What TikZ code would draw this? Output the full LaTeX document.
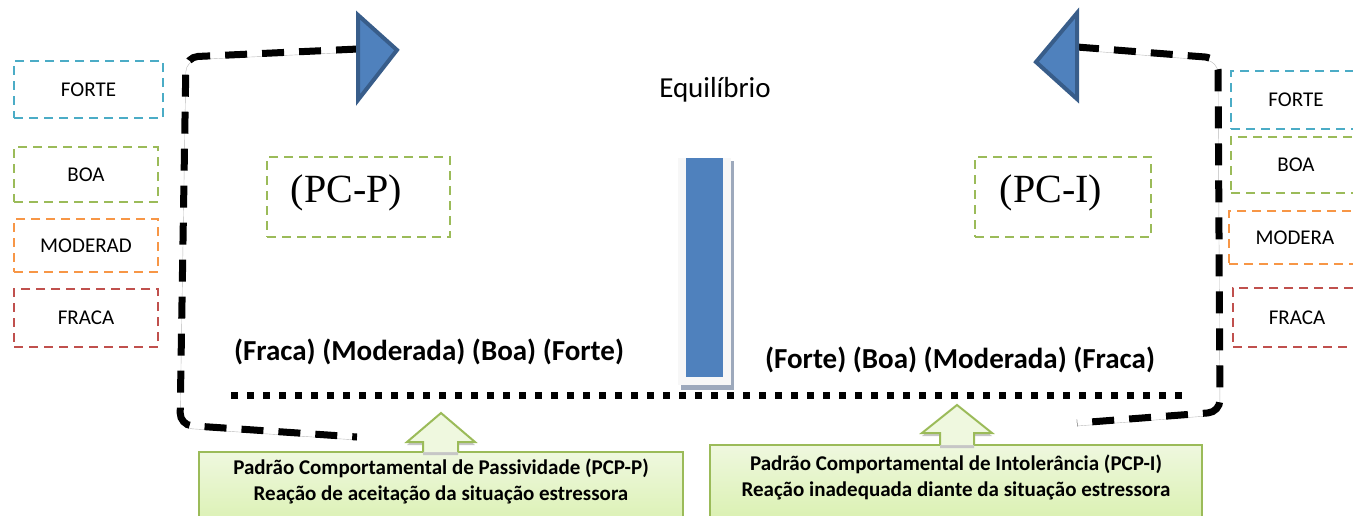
\documentclass[tikz,border=0pt]{standalone}
\usepackage{fontspec}
\setmainfont{Carlito}
\newfontfamily\serifa{Liberation Serif}
\usetikzlibrary{positioning}
\definecolor{azul}{HTML}{4BACC6}
\definecolor{verde}{HTML}{9BBB59}
\definecolor{laranja}{HTML}{F79646}
\definecolor{vermelho}{HTML}{C0504D}
\definecolor{barraazul}{HTML}{4F81BD}
\definecolor{bordaazul}{HTML}{385D8A}
\definecolor{sombra}{HTML}{9DA9BC}
\definecolor{verdeclaro}{HTML}{EFF8DF}
\definecolor{verdefundo}{HTML}{D6EFA8}
\tikzstyle{nivel}=[draw, line width=2pt, dash pattern=on 9pt off 6pt,
    minimum width=144pt, minimum height=55pt, font=\fontsize{21}{25}\selectfont]
\tikzstyle{pc}=[draw=verde, line width=2pt, dash pattern=on 9pt off 6pt,
    minimum height=80pt]
\tikzstyle{moldura}=[line width=7pt, dash pattern=on 22pt off 15pt,
    rounded corners=12pt, preaction={draw=gray!55, transform canvas={yshift=-3pt}}]
\tikzstyle{seta}=[fill=barraazul, draw=bordaazul, line width=4pt, line join=miter]
\tikzstyle{caixa}=[draw=verde, line width=2pt, top color=verdeclaro,
    bottom color=verdefundo, minimum height=90pt, anchor=north]
\tikzstyle{setacaixa}=[fill=verdeclaro, draw=verde, line width=2pt,
    preaction={fill=gray!45, transform canvas={yshift=-3pt}}]
\tikzstyle{rotulo}=[font=\bfseries\fontsize{29}{34}\selectfont]
\tikzstyle{legenda}=[align=center, inner sep=2pt, font=\bfseries\fontsize{21}{26}\selectfont]
\def\recuo{12}

\begin{document}
\begin{tikzpicture}[x=1pt,y=-1pt]
    \useasboundingbox (0,0) rectangle (1353,515);
    % niveis dos dois lados
    \node (eforte) [nivel, draw=azul, minimum width=149pt, minimum height=57pt] at (88.5,89.5) {FORTE};
    \node (eboa) [nivel, draw=verde] at (86,174.5) {BOA};
    \node (emod) [nivel, draw=laranja, minimum height=53pt] at (86,245.5) {MODERAD};
    \node (efraca) [nivel, draw=vermelho, minimum height=58pt] at (86,318) {FRACA};
    \node (dforte) [nivel, draw=azul, minimum width=130pt, minimum height=58pt] at (1296,100) {FORTE};
    \node (dboa) [nivel, draw=verde, minimum width=130pt, minimum height=56pt] at (1296,165) {BOA};
    \node (dmod) [nivel, draw=laranja, minimum width=132pt, minimum height=53pt] at (1295,237.5) {MODERA};
    \node (dfraca) [nivel, draw=vermelho, minimum width=128pt, minimum height=59pt] at (1297,317.5) {FRACA};
    % moldura tracejada
    \coordinate (te) at (358,49);
    \coordinate (td) at (1077,47);
    \draw[moldura] (te) -- (186,57) -- (180,425) -- (357,437);
    \draw[moldura] (td) -- (1218,58) -- (1220,412) -- (1077,423);
    \filldraw[seta] (358,15) -- (397,50) -- (358,100) -- cycle;
    \filldraw[seta] (1077,13) -- (1036,62) -- (1077,99) -- cycle;
    \node (equil) [font=\fontsize{29}{34}\selectfont] at (715,90) {Equilíbrio};
    % barra do meio
    \fill[sombra] (681,161) rectangle (734,390);
    \node (barra) [fill=gray!6, minimum width=53pt, minimum height=227pt, inner sep=0] at (704.5,271.5) {};
    \node (pilar) [fill=barraazul, minimum width=37pt, minimum height=219pt, inner sep=0] at (704.5,267.5) {};
    \node (pcp) [pc, minimum width=183pt] at (358.5,197) {};
    \path (pcp)+(-\recuo,-4) node (pcptexto) [font=\serifa\fontsize{40}{48}\selectfont] {(PC-P)};
    \node (pci) [pc, minimum width=176pt] at (1063,197) {};
    \path (pci)+(-\recuo,-4) node (pcitexto) [font=\serifa\fontsize{40}{48}\selectfont] {(PC-I)};
    \node (escp) [rotulo] at (429,352) {(Fraca) (Moderada) (Boa) (Forte)};
    \node (esci) [rotulo] at (960,360) {(Forte) (Boa) (Moderada) (Fraca)};
    \coordinate (pini) at (231,395);
    \coordinate (pfim) at (1183,395);
    \draw[line width=7pt, dash pattern=on 7pt off 9pt] (pini) -- (pfim);
    % caixas de baixo
    \node (cpas) [caixa, minimum width=484pt] at (441,451) {};
    \node (tpas) [legenda, below=6pt of cpas.north] {Padrão Comportamental de Passividade (PCP-P)\\Reação de aceitação da situação estressora};
    \filldraw[setacaixa] (423,452) -- (423,442) -- (407,442) -- (441,413) -- (475,442) -- (458,442) -- (458,452);
    \node (cint) [caixa, minimum width=492pt] at (956,444) {};
    \node (tint) [legenda, below=9pt of cint.north] {Padrão Comportamental de Intolerância (PCP-I)\\Reação inadequada diante da situação estressora};
    \filldraw[setacaixa] (940,445) -- (940,433) -- (922,433) -- (957,405) -- (992,433) -- (974,433) -- (974,445);
\end{tikzpicture}
\end{document}
